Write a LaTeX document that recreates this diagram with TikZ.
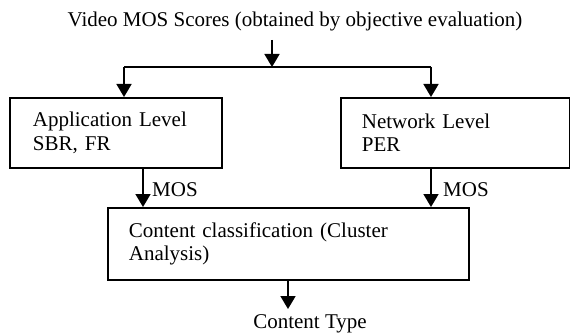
\documentclass[tikz,border=0pt]{standalone}
\usepackage{fontspec}
\setmainfont{Liberation Serif}
\usetikzlibrary{arrows.meta}
\begin{document}
\begin{tikzpicture}[x=1pt,y=-1pt,
  every node/.style={font=\fontsize{21}{23.5}\selectfont, inner sep=0pt},
  box/.style={draw, line width=1.8pt, anchor=north west, align=left, inner ysep=0pt},
  line/.style={line width=1.8pt},
  arr/.style={line width=1.8pt, -{Triangle[length=13pt,width=15pt]}}]
\useasboundingbox (0,0) rectangle (570,334);
\node (title) at (295,21) {Video MOS Scores (obtained by objective evaluation)};
\node[box, minimum width=212pt, minimum height=70pt, text width=166pt, inner xsep=23pt] (app) at (9,97) {Application Level\\SBR, FR};
\node[box, minimum width=229pt, minimum height=70pt, text width=187pt, inner xsep=21pt] (net) at (340,97) {Network Level\\PER};
\node[box, minimum width=361pt, minimum height=72pt, text width=319pt, inner xsep=21pt] (cls) at (107,207) {Content classification (Cluster\\Analysis)};
\node (type) at (310,324) {Content Type};
\coordinate (s0) at (272,40);
\coordinate (s) at (272,67);
\coordinate (aL) at (124,67);
\coordinate (aR) at (431,67);
\draw[arr] (s0) -- (s);
\draw[line] (aL) -- (aR);
\draw[arr] (aL) -- (aL |- app.north);
\draw[arr] (aR) -- (aR |- net.north);
\coordinate (mL) at (143,167);
\coordinate (mR) at (431,167);
\draw[arr] (mL) -- (mL |- cls.north);
\draw[arr] (mR) -- (mR |- cls.north);
\node[anchor=west] (mosL) at (152,190) {MOS};
\node[anchor=west] (mosR) at (443,190) {MOS};
\coordinate (b0) at (288,279);
\coordinate (b1) at (288,309);
\draw[arr] (b0) -- (b1);
\end{tikzpicture}
\end{document}
